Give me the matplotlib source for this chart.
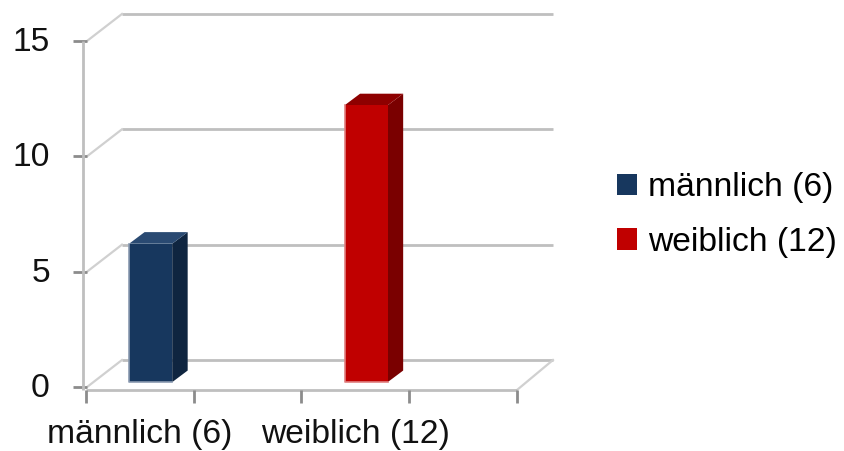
import matplotlib.pyplot as plt
import matplotlib.transforms as mtransforms
from matplotlib.patches import Patch

categories = ['männlich (6)', 'weiblich (12)']
values = [6, 12]
cat_pos = [0.5, 2.5]          # category centres on a 4-slot floor
yticks = [0, 5, 10, 15]
front_cols = ['#17375E', '#C00000']
side_cols = ['#0F2540', '#7A0000']
top_cols = ['#2A4A72', '#8E0000']
edge_cols = ['#8A9AB0', '#E08080']

plt.rcParams['font.family'] = ['Liberation Sans', 'DejaVu Sans']
FS = 24.2

fig = plt.figure(figsize=(8.44, 4.51), dpi=100)
ax = fig.add_axes([0, 0, 1, 1])
ax.set_xlim(-0.798, 7.035)
ax.set_ylim(-2.774, 16.775)
ax.axis('off')

DX, DY = 0.334, 1.17      # depth of the 3d box
nslots = 4
grid = '#BFBFBF'
tickc = '#8C8C8C'
diag = '#D0D0D0'
x_ax_y = -0.13

# back wall gridlines + diagonals from the front axis
for v in yticks:
    ax.plot([DX, nslots + DX], [v + DY, v + DY], color=grid, lw=2, solid_capstyle='butt', zorder=1)
    ax.plot([0.01, DX], [v, v + DY], color=diag, lw=1.6, zorder=1)
    ax.plot([-0.12, 0.01], [v, v], color=tickc, lw=2, solid_capstyle='butt', zorder=1)
    tr = mtransforms.offset_copy(ax.transData, fig=fig, x=0, y=-10, units='dots')
    ax.text(-0.334, v, str(v), ha='right', va='baseline', fontsize=FS,
            color='#111111', transform=tr)

# floor right edge
ax.plot([nslots, nslots + DX], [x_ax_y, DY], color=diag, lw=1.6, zorder=1)

# front axes
ax.plot([-0.028, -0.028], [x_ax_y, 15], color=grid, lw=2, solid_capstyle='butt', zorder=1)
ax.plot([0, nslots], [x_ax_y, x_ax_y], color=grid, lw=2, solid_capstyle='butt', zorder=1)
for i in range(nslots + 1):
    ax.plot([i, i], [x_ax_y, x_ax_y - 0.56], color=tickc, lw=2, solid_capstyle='butt', zorder=1)

# category labels
for pos, lab in zip(cat_pos, categories):
    ax.text(pos, -2.43, lab, ha='center', va='baseline', fontsize=FS, color='#111111')

# 3d bars
f0, f1 = 0.18, 0.61
w = 0.4
for pos, v, fc, sc, tc, ec in zip(cat_pos, values, front_cols, side_cols, top_cols, edge_cols):
    x0 = pos - w / 2 + 0.04 + f0 * DX
    x1 = x0 + w
    y0 = f0 * DY
    y1 = v + f0 * DY
    ddx = (f1 - f0) * DX
    ddy = (f1 - f0) * DY
    ax.fill([x1, x1 + ddx, x1 + ddx, x1], [y0, y0 + ddy, y1 + ddy, y1], color=sc, lw=0, zorder=3)
    ax.fill([x0, x1, x1 + ddx, x0 + ddx], [y1, y1, y1 + ddy, y1 + ddy], color=tc, lw=0, zorder=3)
    ax.fill([x0, x1, x1, x0], [y0, y0, y1, y1], color=fc, lw=0, zorder=3)
    ax.plot([x0, x0, x1], [y1, y0, y0], color=ec, lw=1.2, zorder=4)

handles = [Patch(facecolor=c, edgecolor='none') for c in front_cols]
ax.legend(handles, categories, loc='center left', bbox_to_anchor=(617 / 844, 1 - 215 / 451),
          frameon=False, fontsize=FS, borderpad=0, borderaxespad=0,
          handlelength=0.6, handleheight=0.6, handletextpad=0.33, labelspacing=0.7)

fig.savefig('out.png', dpi=100)
